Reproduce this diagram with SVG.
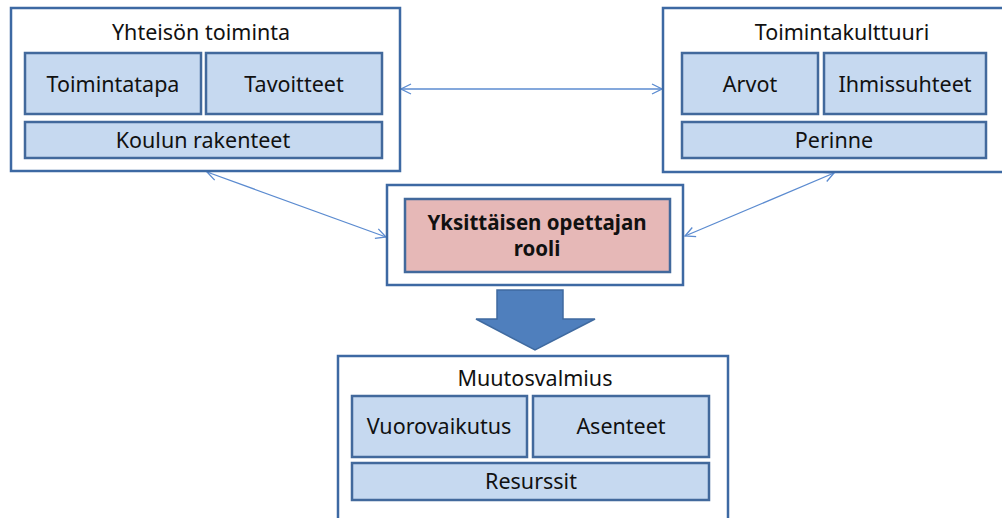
<svg xmlns="http://www.w3.org/2000/svg" width="1002" height="518" viewBox="0 0 1002 518">
<style>
.outer{fill:#fff;stroke:#3d69a3;stroke-width:2.5}
.inner{fill:#c6d9f0;stroke:#42699c;stroke-width:2.5}
.pink{fill:#e6b8b7;stroke:#42699c;stroke-width:2.5}
text{font-family:"Noto Sans","Open Sans",sans-serif;fill:#111;text-anchor:middle}
.t{font-size:21.5px}
.l{font-size:21.5px}
.b{font-size:20.5px;font-weight:bold}
.con{stroke:#5b8bd0;stroke-width:1.3;fill:none;marker-start:url(#ah);marker-end:url(#ah)}
</style>
<defs>
<marker id="ah" viewBox="0 0 12 12" refX="11" refY="6" markerWidth="12" markerHeight="12" markerUnits="userSpaceOnUse" orient="auto-start-reverse">
<path d="M1,1 L11,6 L1,11" fill="none" stroke="#5b8bd0" stroke-width="1.3"/>
</marker>
</defs>
<rect width="1002" height="518" fill="#fff"/>
<g id="connectors">
<line class="con" x1="401" y1="89" x2="662" y2="89"/>
<line class="con" x1="207" y1="172" x2="386" y2="237"/>
<line class="con" x1="834" y1="173" x2="685" y2="236"/>
<path d="M497,290 L563,290 L563,319 L595,319 L535,350 L476,319 L497,319 Z" fill="#4f7fbd" stroke="#3f6aa0" stroke-width="1.5"/>
</g>
<g id="yhteison-toiminta">
<rect class="outer" x="11" y="8" width="389" height="163"/>
<text class="t" x="201" y="40">Yhteisön toiminta</text>
<g id="toimintatapa"><rect class="inner" x="25" y="53" width="176" height="61"/><text class="l" x="113" y="92">Toimintatapa</text></g>
<g id="tavoitteet"><rect class="inner" x="206" y="53" width="176" height="61"/><text class="l" x="294" y="92">Tavoitteet</text></g>
<g id="koulun-rakenteet"><rect class="inner" x="25" y="122" width="357" height="36"/><text class="l" x="203" y="148">Koulun rakenteet</text></g>
</g>
<g id="toimintakulttuuri">
<rect class="outer" x="663" y="8" width="345" height="164"/>
<text class="t" x="842" y="40">Toimintakulttuuri</text>
<g id="arvot"><rect class="inner" x="682" y="53" width="136" height="61"/><text class="l" x="750" y="92">Arvot</text></g>
<g id="ihmissuhteet"><rect class="inner" x="824" y="53" width="162" height="61"/><text class="l" x="905" y="92">Ihmissuhteet</text></g>
<g id="perinne"><rect class="inner" x="682" y="122" width="304" height="36"/><text class="l" x="834" y="148">Perinne</text></g>
</g>
<g id="opettajan-rooli">
<rect class="outer" x="387" y="185" width="296" height="100"/>
<rect class="pink" x="405" y="199" width="265" height="73"/>
<text class="b" x="537" y="230">Yksittäisen opettajan</text>
<text class="b" x="537" y="256">rooli</text>
</g>
<g id="muutosvalmius">
<rect class="outer" x="338" y="356" width="390" height="170"/>
<text class="t" x="535" y="386">Muutosvalmius</text>
<g id="vuorovaikutus"><rect class="inner" x="352" y="396" width="175" height="61"/><text class="l" x="439" y="434">Vuorovaikutus</text></g>
<g id="asenteet"><rect class="inner" x="533" y="396" width="176" height="61"/><text class="l" x="621" y="434">Asenteet</text></g>
<g id="resurssit"><rect class="inner" x="352" y="463" width="357" height="37"/><text class="l" x="531" y="489">Resurssit</text></g>
</g>
</svg>
